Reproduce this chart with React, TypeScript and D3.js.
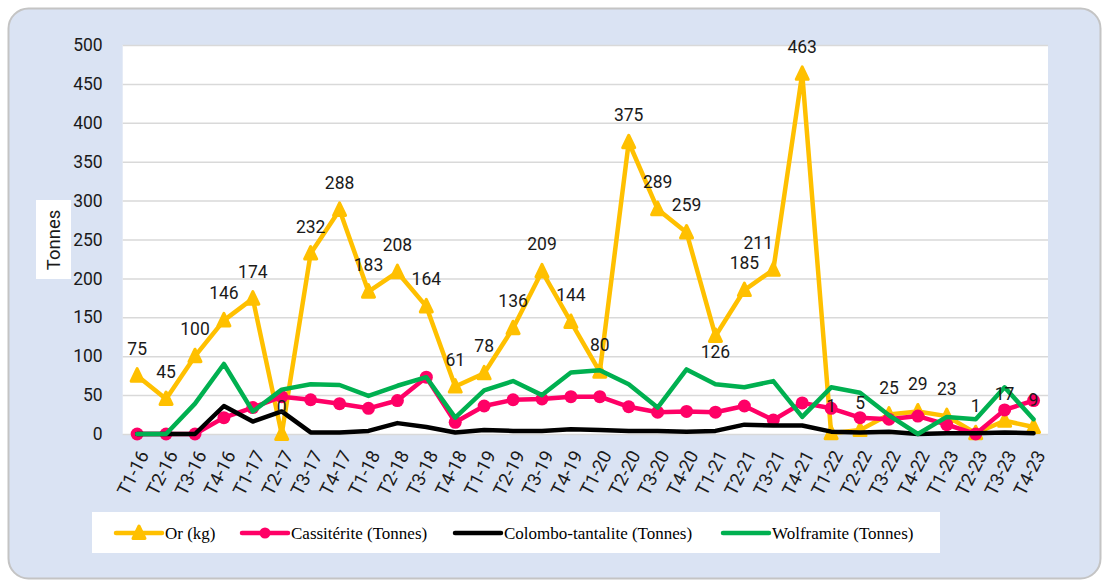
import * as d3 from 'd3'
import { useEffect, useRef } from 'react'

const quarters = [
  'T1-16', 'T2-16', 'T3-16', 'T4-16', 'T1-17', 'T2-17', 'T3-17', 'T4-17',
  'T1-18', 'T2-18', 'T3-18', 'T4-18', 'T1-19', 'T2-19', 'T3-19', 'T4-19',
  'T1-20', 'T2-20', 'T3-20', 'T4-20', 'T1-21', 'T2-21', 'T3-21', 'T4-21',
  'T1-22', 'T2-22', 'T3-22', 'T4-22', 'T1-23', 'T2-23', 'T3-23', 'T4-23',
]

const orKg = [
  75, 45, 100, 146, 174, 0, 232, 288, 183, 208, 164, 61, 78, 136, 209, 144,
  80, 375, 289, 259, 126, 185, 211, 463, 1, 5, 25, 29, 23, 1, 17, 9,
]

const cassiterite = [
  0, 0, 0, 21, 34, 48, 44, 39, 33, 43, 73, 15, 36, 44, 45, 48,
  48, 35, 28, 29, 28, 36, 18, 40, 33, 21, 19, 23, 12, 0, 31, 43,
]

const colombo = [
  0, 0, 0, 36, 16, 29, 2, 2, 4, 14, 9, 2, 5, 4, 4, 6,
  5, 4, 4, 3, 4, 12, 11, 11, 3, 2, 3, 0, 1, 1, 2, 1,
]

const wolframite = [
  0, 0, 39, 90, 29, 57, 64, 63, 49, 62, 73, 21, 56, 68, 50, 79,
  82, 64, 34, 83, 64, 60, 68, 22, 60, 53, 24, 0, 22, 19, 60, 19,
]

const yTicks = [0, 50, 100, 150, 200, 250, 300, 350, 400, 450, 500]

const seriesNames = ['Or (kg)', 'Cassitérite (Tonnes)', 'Colombo-tantalite (Tonnes)', 'Wolframite (Tonnes)']
const seriesColors = ['#ffc000', '#ff0066', '#000000', '#00b050']

export default function App() {
  const ref = useRef<SVGSVGElement | null>(null)

  useEffect(() => {
    const width = 1104
    const height = 583
    const left = 122.7
    const right = 1048
    const top = 45
    const bottom = 434
    const font = 'Roboto, sans-serif'

    const svg = d3.select(ref.current!)
    svg.selectAll('*').remove()
    svg.attr('width', width).attr('height', height)

    // outer frame
    svg
      .append('rect')
      .attr('x', 8.5)
      .attr('y', 8.5)
      .attr('width', 1092)
      .attr('height', 570)
      .attr('rx', 20)
      .attr('fill', '#dae3f3')
      .attr('stroke', '#c4c4c4')
      .attr('stroke-width', 2)

    const x = d3.scaleBand().domain(quarters).range([left, right])
    const y = d3.scaleLinear().domain([0, 500]).range([bottom, top])
    const cx = (i: number) => x(quarters[i])! + x.bandwidth() / 2

    // plot area
    svg
      .append('rect')
      .attr('x', left)
      .attr('y', top)
      .attr('width', right - left)
      .attr('height', bottom - top)
      .attr('fill', '#ffffff')

    // gridlines
    svg
      .append('g')
      .attr('transform', `translate(${left},0)`)
      .call(d3.axisLeft(y).tickValues(yTicks).tickSize(-(right - left)).tickFormat(() => ''))
      .call((g) => g.select('.domain').remove())
      .call((g) => g.selectAll('line').attr('stroke', '#d9d9d9').attr('stroke-width', 1.5))

    // y axis labels
    svg
      .append('g')
      .attr('transform', `translate(${left},0)`)
      .call(d3.axisLeft(y).tickValues(yTicks).tickSize(0).tickPadding(20))
      .call((g) => g.select('.domain').remove())
      .call((g) =>
        g.selectAll('text').attr('font-size', 17.5).attr('font-family', font).attr('fill', '#1a1a1a')
      )

    // y axis title
    svg
      .append('rect')
      .attr('x', 36)
      .attr('y', 200)
      .attr('width', 35)
      .attr('height', 79)
      .attr('fill', '#ffffff')
    svg
      .append('text')
      .attr('transform', 'translate(54,240) rotate(-90)')
      .attr('text-anchor', 'middle')
      .attr('dominant-baseline', 'central')
      .attr('font-size', 18.5)
      .attr('font-family', font)
      .attr('fill', '#1a1a1a')
      .text('Tonnes')

    // x axis labels
    svg
      .append('g')
      .selectAll('text')
      .data(quarters)
      .join('text')
      .attr('transform', (_, i) => `translate(${cx(i) + 7},452) rotate(-63)`)
      .attr('text-anchor', 'end')
      .attr('dominant-baseline', 'central')
      .attr('font-size', 18.5)
      .attr('font-family', font)
      .attr('fill', '#1a1a1a')
      .text((d) => d)

    const line = d3
      .line<number>()
      .x((_, i) => cx(i))
      .y((d) => y(d))

    const allSeries = [orKg, cassiterite, colombo, wolframite]
    allSeries.forEach((s, k) => {
      svg
        .append('path')
        .datum(s)
        .attr('d', line)
        .attr('fill', 'none')
        .attr('stroke', seriesColors[k])
        .attr('stroke-width', 4.5)
        .attr('stroke-linejoin', 'round')
        .attr('stroke-linecap', 'round')

      if (k === 0) {
        svg
          .append('g')
          .selectAll('path')
          .data(s)
          .join('path')
          .attr('transform', (d, i) => `translate(${cx(i)},${y(d)})`)
          .attr('d', 'M0,-7 L6,5.5 L-6,5.5 Z')
          .attr('fill', seriesColors[k])
          .attr('stroke', seriesColors[k])
          .attr('stroke-width', 3)
          .attr('stroke-linejoin', 'round')
      }
      if (k === 1) {
        svg
          .append('g')
          .selectAll('circle')
          .data(s)
          .join('circle')
          .attr('cx', (_, i) => cx(i))
          .attr('cy', (d) => y(d))
          .attr('r', 6.5)
          .attr('fill', seriesColors[k])
      }
    })

    // data labels for Or
    svg
      .append('g')
      .selectAll('text')
      .data(orKg)
      .join('text')
      .attr('x', (_, i) => cx(i) + (i === 22 ? -15 : 0))
      .attr('y', (d, i) => y(d) + (i === 20 ? 16 : -27))
      .attr('text-anchor', 'middle')
      .attr('dominant-baseline', 'central')
      .attr('font-size', 17.5)
      .attr('font-family', font)
      .attr('fill', '#1a1a1a')
      .text((d) => d)

    // legend
    svg
      .append('rect')
      .attr('x', 92)
      .attr('y', 512)
      .attr('width', 848)
      .attr('height', 41)
      .attr('fill', '#ffffff')

    const legendX = [116, 242, 455, 723]
    const legend = svg
      .append('g')
      .selectAll('g')
      .data(seriesNames)
      .join('g')
      .attr('transform', (_, i) => `translate(${legendX[i]},533)`)

    legend
      .append('line')
      .attr('x1', 0)
      .attr('x2', 46)
      .attr('stroke', (_, i) => seriesColors[i])
      .attr('stroke-width', 4.5)
      .attr('stroke-linecap', 'round')

    legend
      .filter((_, i) => i === 0)
      .append('path')
      .attr('transform', 'translate(23,0)')
      .attr('d', 'M0,-7 L6,5.5 L-6,5.5 Z')
      .attr('fill', seriesColors[0])
      .attr('stroke', seriesColors[0])
      .attr('stroke-width', 3)
      .attr('stroke-linejoin', 'round')

    legend
      .filter((_, i) => i === 1)
      .append('circle')
      .attr('cx', 23)
      .attr('r', 5.5)
      .attr('fill', seriesColors[1])

    legend
      .append('text')
      .attr('x', 49)
      .attr('dominant-baseline', 'central')
      .attr('font-size', 17)
      .attr('font-family', '"Liberation Serif", serif')
      .attr('fill', '#000000')
      .text((d) => d)
  }, [])

  return (
    <div style={{ position: 'absolute', left: 0, top: 0 }}>
      <svg ref={ref} width={1104} height={583} />
    </div>
  )
}
